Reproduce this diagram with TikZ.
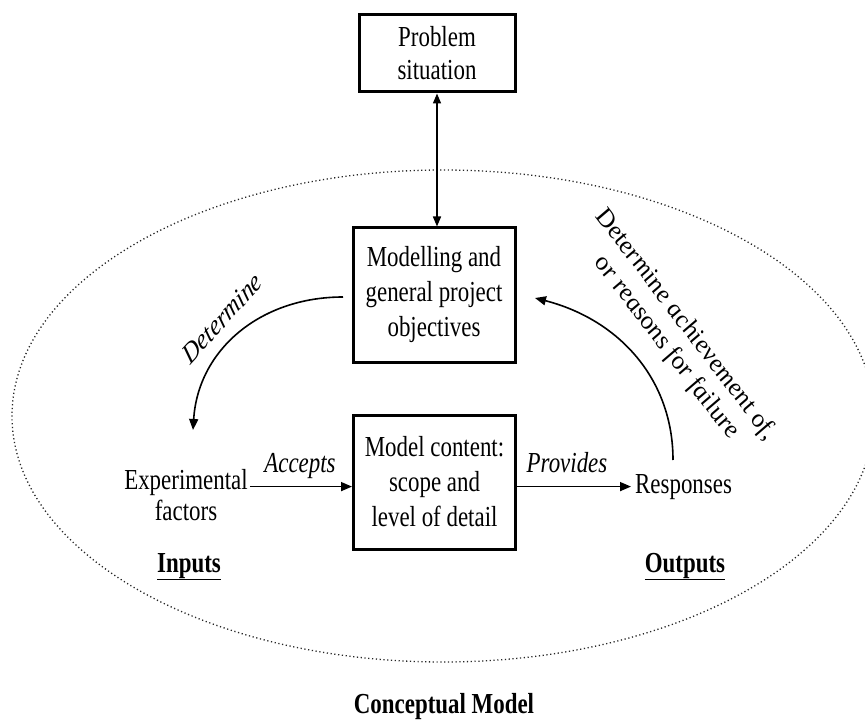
\documentclass[tikz,border=0pt]{standalone}
\usepackage{fontspec}
\setmainfont[FakeStretch=0.79]{Liberation Serif}
\newfontfamily\plainrm{Liberation Serif}
\usetikzlibrary{arrows.meta}
\begin{document}
\begin{tikzpicture}[x=1pt,y=-1pt,
  txt/.style={font=\fontsize{29}{34}\selectfont, inner sep=0pt},
  box/.style={draw, line width=3pt, align=center, inner sep=0pt,
              minimum width=162pt, minimum height=134pt,
              font=\fontsize{29}{35}\selectfont},
  arr/.style={line width=1.6pt, -{Triangle[length=11pt,width=9pt]}},
  darr/.style={line width=1.5pt, {Triangle[length=10pt,width=8pt]}-{Triangle[length=10pt,width=8pt]}},
  rotlabel/.style={font=\fontsize{29}{33}\selectfont\plainrm\itshape, inner sep=0pt, align=center, xscale=0.79},
  edgelabel/.style={txt, font=\fontsize{29}{34}\selectfont\itshape, anchor=base},
  dotline/.style={line width=1.3pt, dash pattern=on 1.2pt off 2.6pt, black!85}]
\useasboundingbox[fill=white] (0,0) rectangle (865,722);

% conceptual model boundary
\draw[dotline] (443,416) ellipse [x radius=431pt, y radius=246pt];

% boxes
\node[box, minimum width=156pt, minimum height=77pt, font=\fontsize{29}{33}\selectfont] (problem) at (437,53.5) {Problem\\situation};
\node[box] (model) at (434,295) {Modelling and\\general project\\objectives};
\node[box] (content) at (434.5,482) {Model content:\\scope and\\level of detail};

% inputs / outputs
\node[txt, align=center, font=\fontsize{29}{31}\selectfont] (exp) at (186,494.6) {Experimental\\factors};
\node[txt, anchor=base west] (resp) at (635,493) {Responses};

% connectors
\draw[darr] (problem.south) -- (problem.south |- model.north);
\draw[arr, shorten <=2pt] (exp.east |- resp.west) -- (content.west |- resp.west);
\draw[arr, shorten >=4pt] (content.east |- resp.west) -- (resp.west);
\node[edgelabel] (acc) at (300,472) {Accepts};
\node[edgelabel] (prov) at (567,472) {Provides};

\coordinate (d1) at (343,297);
\coordinate (d2) at (193,430);
\draw[arr] (d1) .. controls (260,297) and (198,350) .. (d2);
\node[rotlabel, rotate=41] (det) at (222,318) {Determine};

\coordinate (r1) at (673,460);
\coordinate (r2) at (535,298);
\draw[arr] (r1) .. controls (673,380) and (620,320) .. (r2);
\node[rotlabel, rotate=-46] (ach) at (676,336) {Determine achievement of,\\or reasons for failure};

% headings
\node[txt, anchor=base, font=\fontsize{29}{34}\selectfont\bfseries] (inp) at (189,572) {\underline{Inputs}};
\node[txt, anchor=base, font=\fontsize{29}{34}\selectfont\bfseries] (outp) at (685,572) {\underline{Outputs}};
\node[txt, anchor=base, font=\fontsize{29}{34}\selectfont\bfseries] (title) at (444,713) {Conceptual Model};
\end{tikzpicture}
\end{document}
